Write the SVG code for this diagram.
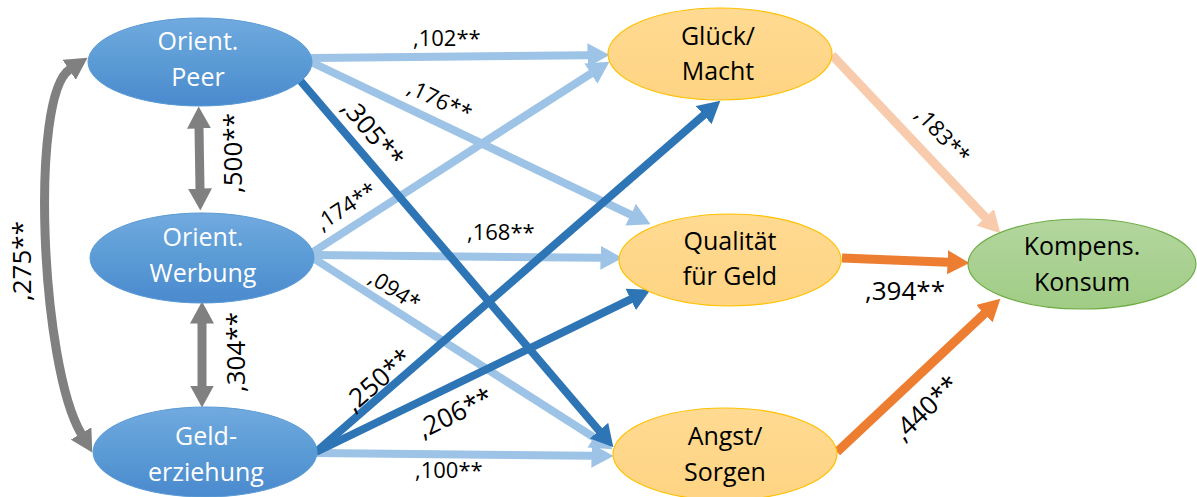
<svg xmlns="http://www.w3.org/2000/svg" width="1197" height="497" viewBox="0 0 1197 497">
<defs>
<linearGradient id="gBlue" x1="0" y1="0" x2="0" y2="1">
<stop offset="0" stop-color="#71AADF"/><stop offset="0.5" stop-color="#5B9BD5"/><stop offset="1" stop-color="#4A8ACE"/>
</linearGradient>
<linearGradient id="gOrange" x1="0" y1="0" x2="0" y2="1">
<stop offset="0" stop-color="#FFDA92"/><stop offset="1" stop-color="#FFD483"/>
</linearGradient>
<linearGradient id="gGreen" x1="0" y1="0" x2="0" y2="1">
<stop offset="0" stop-color="#B3D69E"/><stop offset="1" stop-color="#A0CC85"/>
</linearGradient>
<marker id="mLight" viewBox="0 0 22 24" markerWidth="22" markerHeight="24" refX="0.5" refY="12" markerUnits="userSpaceOnUse" orient="auto"><path d="M0,0 L22,12 L0,24 Z" fill="#9DC3E6"/></marker>
<marker id="mDark" viewBox="0 0 22 24" markerWidth="22" markerHeight="24" refX="0.5" refY="12" markerUnits="userSpaceOnUse" orient="auto"><path d="M0,0 L22,12 L0,24 Z" fill="#2E75B6"/></marker>
<marker id="mGray" viewBox="0 0 22 24" markerWidth="22" markerHeight="24" refX="0.5" refY="12" markerUnits="userSpaceOnUse" orient="auto-start-reverse"><path d="M0,0 L22,12 L0,24 Z" fill="#808080"/></marker>
<marker id="mPeach" viewBox="0 0 22 24" markerWidth="22" markerHeight="24" refX="0.5" refY="12" markerUnits="userSpaceOnUse" orient="auto"><path d="M0,0 L22,12 L0,24 Z" fill="#F8CBAD"/></marker>
<marker id="mOrange" viewBox="0 0 22 24" markerWidth="22" markerHeight="24" refX="0.5" refY="12" markerUnits="userSpaceOnUse" orient="auto"><path d="M0,0 L22,12 L0,24 Z" fill="#ED7D31"/></marker>
</defs>
<style>
.lt{stroke:#9DC3E6;stroke-width:8;fill:none;marker-end:url(#mLight)}
.dk{stroke:#2E75B6;stroke-width:8;fill:none;marker-end:url(#mDark)}
.gr{stroke:#808080;stroke-width:9;fill:none;marker-start:url(#mGray);marker-end:url(#mGray)}
.pc{stroke:#F8CBAD;stroke-width:9;fill:none;marker-end:url(#mPeach)}
.or{stroke:#ED7D31;stroke-width:9;fill:none;marker-end:url(#mOrange)}
.bn{fill:url(#gBlue);stroke:#5B9BD5;stroke-width:1}
.on{fill:url(#gOrange);stroke:#FFC000;stroke-width:1.2}
.gn{fill:url(#gGreen);stroke:#70AD47;stroke-width:1.2}
.wt{font-family:"Open Sans","Liberation Sans",sans-serif;font-size:25px;fill:#FFFFFF;text-anchor:middle}
.bt{font-family:"Open Sans","Liberation Sans",sans-serif;font-size:25px;fill:#000000;text-anchor:middle}
.ls{font-family:"Open Sans","Liberation Sans",sans-serif;font-size:22px;fill:#000000}
.ll{font-family:"Open Sans","Liberation Sans",sans-serif;font-size:26px;fill:#000000}
.c{text-anchor:middle}
</style>

<g id="connectors">
<line class="lt" x1="311" y1="58" x2="588" y2="55.2"/>
<line class="lt" x1="311" y1="62" x2="631.1" y2="214.9"/>
<line class="lt" x1="313" y1="252" x2="591.3" y2="73.3"/>
<line class="lt" x1="313" y1="255" x2="601" y2="257.8"/>
<line class="lt" x1="313" y1="258" x2="594.3" y2="437.7"/>
<line class="lt" x1="316" y1="453" x2="592" y2="455.8"/>
<line class="dk" x1="298" y1="78" x2="599.4" y2="431"/>
<line class="dk" x1="316" y1="452" x2="704.1" y2="114.8"/>
<line class="dk" x1="316" y1="452" x2="631.1" y2="299.2"/>
<line class="pc" x1="832" y1="55" x2="985.6" y2="217.7"/>
<line class="or" x1="842" y1="258" x2="948" y2="262.2"/>
<line class="or" x1="837" y1="452" x2="984.7" y2="313.4"/>
<line class="gr" x1="199" y1="128" x2="200" y2="189"/>
<line class="gr" x1="202" y1="323" x2="202" y2="386"/>
<path class="gr" d="M69.6,69.6 C29.6,96 40.5,365 81.3,433.9"/>
</g>

<g id="labels">
<text class="ls" x="413" y="46">,102**</text>
<text class="ls c" transform="translate(440,100) rotate(25.5)" y="8">,176**</text>
<text class="ll c" transform="translate(373,133) rotate(50)" y="9">,305**</text>
<text class="ls c" transform="translate(346,206) rotate(-33)" y="8">,174**</text>
<text class="ls" x="467" y="240">,168**</text>
<text class="ls c" transform="translate(395,290) rotate(32.6)" y="8">,094*</text>
<text class="ll c" transform="translate(378,380) rotate(-41)" y="9">,250**</text>
<text class="ll c" transform="translate(455,413) rotate(-26)" y="9">,206**</text>
<text class="ls" x="415" y="478">,100**</text>
<text class="ls c" transform="translate(943,135) rotate(47)" y="8">,183**</text>
<text class="ll" x="865" y="300">,394**</text>
<text class="ll c" transform="translate(926,408) rotate(-44)" y="9">,440**</text>
<text class="ll c" transform="translate(233,153) rotate(-90)" y="9">,500**</text>
<text class="ll c" transform="translate(236,352) rotate(-90)" y="9">,304**</text>
<text class="ll c" transform="translate(22,261) rotate(-90)" y="9">,275**</text>
</g>

<g id="node-peer">
<ellipse class="bn" cx="200" cy="62" rx="112" ry="44"/>
<text class="wt" x="198" y="50">Orient.</text>
<text class="wt" x="198" y="86">Peer</text>
</g>
<g id="node-werbung">
<ellipse class="bn" cx="202" cy="258" rx="112" ry="45"/>
<text class="wt" x="203" y="246">Orient.</text>
<text class="wt" x="203" y="282">Werbung</text>
</g>
<g id="node-gelderziehung">
<ellipse class="bn" cx="205" cy="452" rx="112" ry="45"/>
<text class="wt" x="206" y="445">Geld-</text>
<text class="wt" x="206" y="481">erziehung</text>
</g>
<g id="node-glueck">
<ellipse class="on" cx="720" cy="54" rx="112" ry="46"/>
<text class="bt" x="718" y="45">Glück/</text>
<text class="bt" x="718" y="80">Macht</text>
</g>
<g id="node-qualitaet">
<ellipse class="on" cx="730" cy="260" rx="111" ry="46"/>
<text class="bt" x="730" y="250">Qualität</text>
<text class="bt" x="730" y="285">für Geld</text>
</g>
<g id="node-angst">
<ellipse class="on" cx="725" cy="454" rx="112" ry="46"/>
<text class="bt" x="725" y="445">Angst/</text>
<text class="bt" x="725" y="481">Sorgen</text>
</g>
<g id="node-kompens">
<ellipse class="gn" cx="1082" cy="264" rx="114" ry="45"/>
<text class="bt" x="1082" y="255">Kompens.</text>
<text class="bt" x="1082" y="291">Konsum</text>
</g>
</svg>
